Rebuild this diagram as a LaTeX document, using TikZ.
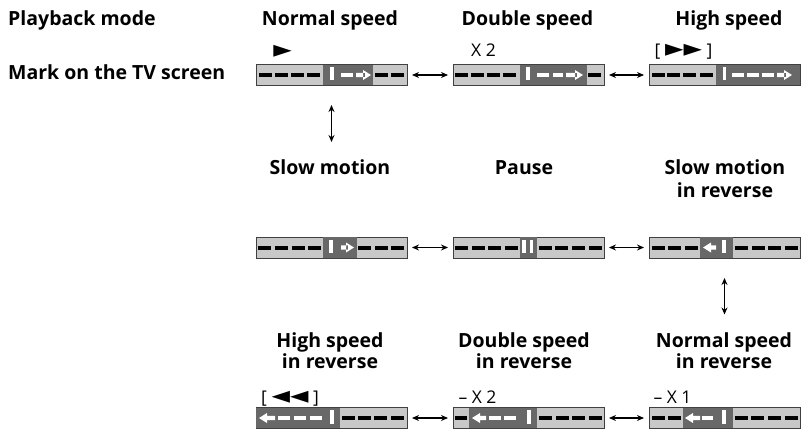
\documentclass[tikz,border=0pt]{standalone}
\usepackage{fontspec}
\setmainfont{Open Sans}
\newfontfamily\symfont{DejaVu Sans}
\usetikzlibrary{arrows.meta}
\definecolor{barlight}{HTML}{C8C8C8}
\definecolor{bardark}{HTML}{686868}
\definecolor{barline}{HTML}{404040}
% bar contents (offsets in px from the bar's west edge)
\newcommand\Bd[2][13]{\fill[black] (#2,-2) rectangle ++(#1,4);}
\newcommand\Wd[2]{\fill[white] (#1,-2.1) rectangle (#2,2.1);}
\newcommand\Vb[1]{\fill[white] (#1,-8) rectangle ++(3.8,13.5);}
\newcommand\Dk[2]{\fill[bardark] (#1,-10.1) rectangle (#2,10.1);}
\newcommand\Ar[2]{\fill[white] (#1,-2.1) rectangle (#2-6,2.1) (#2-8,-5) -- (#2,0) -- (#2-8,5) -- cycle;}
\newcommand\Al[2]{\fill[white] (#1+6,-2.1) rectangle (#2,2.1) (#1+8,-5) -- (#1,0) -- (#1+8,5) -- cycle;}
\newcommand\tri[1]{{\symfont\fontsize{24}{24}\selectfont #1}}
\begin{document}
\begin{tikzpicture}[x=1pt,y=-1pt,
  bar/.style={draw=barline, fill=barlight, line width=0.8pt, minimum width=151pt, minimum height=21pt, inner sep=0pt, outer sep=0pt},
  ttl/.style={font=\bfseries\fontsize{19.5}{22}\selectfont, anchor=base, inner sep=0pt},
  sml/.style={font=\fontsize{17.5}{20}\selectfont, anchor=base, inner sep=0pt},
  dbl/.style={{Stealth[length=7pt,width=6pt]}-{Stealth[length=7pt,width=6pt]}, line width=1.1pt, shorten <=5pt, shorten >=5pt}]
\useasboundingbox (0,0) rectangle (801,433);

% left labels
\node[ttl, anchor=base west] (hmode) at (8,26) {Playback mode};
\node[ttl, anchor=base west] (hmark) at (8,80) {Mark on the TV screen};

% titles row 1
\node[ttl] (t1) at (330,26) {Normal speed};
\node[ttl] (t2) at (527.5,26) {Double speed};
\node[ttl] (t3) at (729,26) {High speed};
% titles row 2
\node[ttl] (t4) at (330,175) {Slow motion};
\node[ttl] (t5) at (524,175) {Pause};
\node[ttl] (t6a) at (725,175) {Slow motion};
\node[ttl] (t6b) at (725,197) {in reverse};
% titles row 3
\node[ttl] (t7a) at (330,347) {High speed};
\node[ttl] (t7b) at (330,368) {in reverse};
\node[ttl] (t8a) at (524,347) {Double speed};
\node[ttl] (t8b) at (524,368) {in reverse};
\node[ttl] (t9a) at (724,347) {Normal speed};
\node[ttl] (t9b) at (724,368) {in reverse};

% small marks
\node[sml] (m1) at (282.5,58) {\tri{►}};
\node[sml] (m2) at (483.5,57) {X 2};
\node[sml] (m3) at (683.5,57) {[ \tri{►►} ]};
\node[sml] (m7) at (290,403) {[ \tri{◄◄} ]};
\node[sml] (m8) at (477.5,403) {– X 2};
\node[sml] (m9) at (672.5,403) {– X 1};

% bars
\node[bar] (b1) at (331.5,75) {};
\node[bar] (b2) at (528.5,75) {};
\node[bar] (b3) at (724.5,75) {};
\node[bar] (b4) at (331.5,247.5) {};
\node[bar] (b5) at (528.5,247.5) {};
\node[bar] (b6) at (724.5,247.5) {};
\node[bar] (b7) at (331.5,418) {};
\node[bar] (b8) at (528.5,418) {};
\node[bar] (b9) at (724.5,418) {};

% normal speed
\begin{scope}[shift={(b1.west)}]
  \Bd{3}\Bd{19}\Bd{35}\Bd{51}
  \Dk{67}{117}\Vb{74}\Wd{85}{97}\Ar{100}{115}
  \Bd{119}\Bd{135}
\end{scope}
% double speed
\begin{scope}[shift={(b2.west)}]
  \Bd{2}\Bd{18}\Bd{34}\Bd{50}
  \Dk{67}{134}\Vb{73}\Wd{84}{96}\Wd{100}{110}\Ar{113}{130}
  \Bd{135}
\end{scope}
% high speed
\begin{scope}[shift={(b3.west)}]
  \Bd{3}\Bd{18}\Bd{34}\Bd{51}
  \Dk{67}{150.6}\Vb{73.5}\Wd{83}{95}\Wd{98}{110}\Wd{113}{125}\Ar{128}{143}
\end{scope}
% slow motion
\begin{scope}[shift={(b4.west)}]
  \Bd{2}\Bd{19}\Bd{36}\Bd{52}
  \Dk{67}{101}\Vb{73}\Ar{85}{98}
  \Bd{102}\Bd{119}\Bd{135}
\end{scope}
% pause
\begin{scope}[shift={(b5.west)}]
  \Bd{2}\Bd{19}\Bd{35}\Bd{52}
  \Dk{67}{84}\Vb{69}\Vb{76.5}
  \Bd{86}\Bd{102}\Bd{119}\Bd{136}
\end{scope}
% slow motion in reverse
\begin{scope}[shift={(b6.west)}]
  \Bd{3}\Bd{19}\Bd{36}
  \Dk{51}{84}\Al{54}{67}\Vb{73}
  \Bd{86}\Bd{102.5}\Bd{119}\Bd{136}
\end{scope}
% high speed in reverse
\begin{scope}[shift={(b7.west)}]
  \Dk{0.4}{84}\Al{3}{19}\Wd{22}{34}\Wd{38}{50}\Wd{54}{66}\Vb{74}
  \Bd{86}\Bd{102}\Bd{118}\Bd{135}
\end{scope}
% double speed in reverse
\begin{scope}[shift={(b8.west)}]
  \Bd[12]{2}
  \Dk{16}{84}\Al{19}{33}\Wd{36}{48}\Wd{51}{63}\Vb{74}
  \Bd{86}\Bd{103}\Bd{119}\Bd{136}
\end{scope}
% normal speed in reverse
\begin{scope}[shift={(b9.west)}]
  \Bd{3}\Bd{19}
  \Dk{34}{84}\Al{36}{51}\Wd{53}{64}\Vb{73}
  \Bd{86}\Bd{102}\Bd{119}\Bd{136}
\end{scope}

% connectors
\draw[dbl] (b1.east) -- (b2.west);
\draw[dbl] (b2.east) -- (b3.west);
\draw[dbl] (b4.east) -- (b5.west);
\draw[dbl] (b5.east) -- (b6.west);
\draw[dbl] (b7.east) -- (b8.west);
\draw[dbl] (b8.east) -- (b9.west);
\draw[dbl, shorten <=19.5pt, shorten >=95pt] (b1.south) -- (b4.north);
\draw[dbl, shorten <=20pt, shorten >=93pt] (b6.south) -- (b9.north);
\end{tikzpicture}
\end{document}
